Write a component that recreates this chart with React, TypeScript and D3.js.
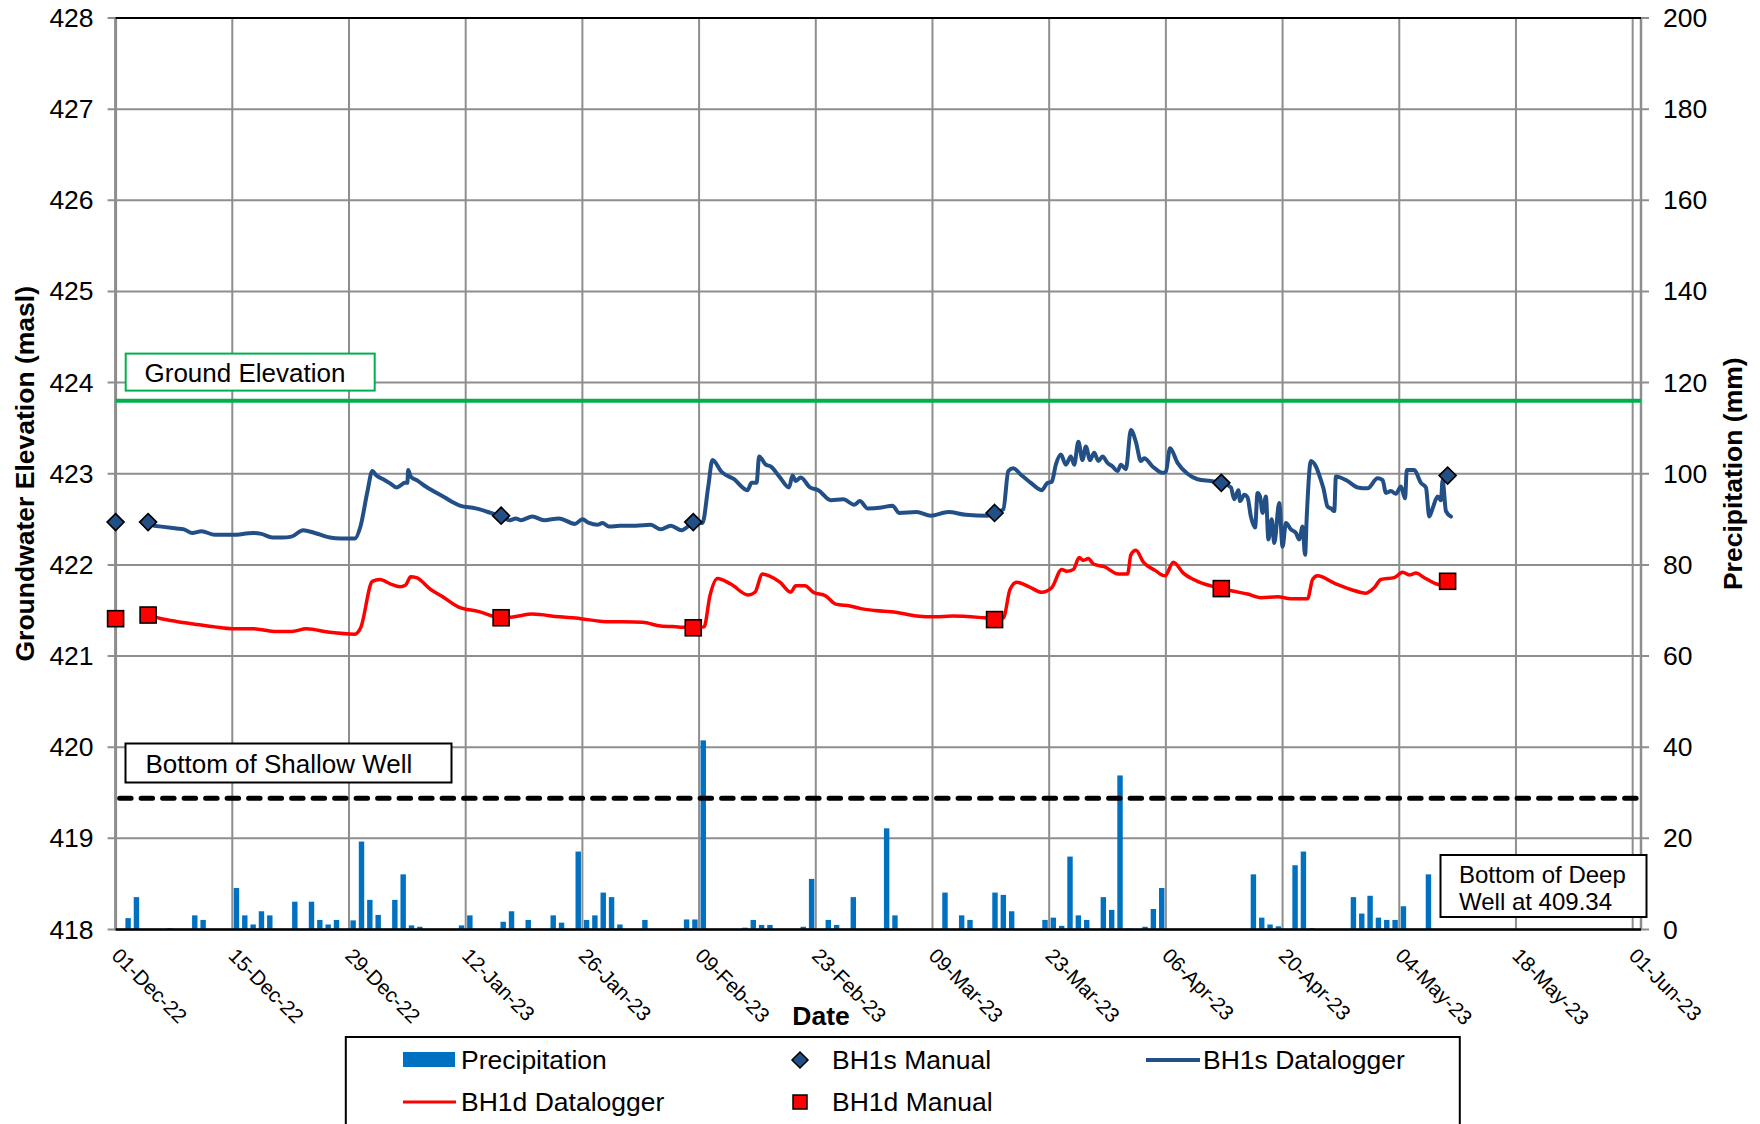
import React from 'react';
import * as d3 from 'd3';

// ---------- DATA ----------
const START_DATE = '2022-12-01';
const END_DATE = '2023-06-02';

const leftTicks = [418, 419, 420, 421, 422, 423, 424, 425, 426, 427, 428];
const rightTicks = [0, 20, 40, 60, 80, 100, 120, 140, 160, 180, 200];

const groundElevation = 423.8;
const shallowWellBottom = 419.44;

// daily precipitation (mm)
const precipDates = [
  '2022-12-02', '2022-12-03', '2022-12-07', '2022-12-10', '2022-12-11', '2022-12-15', '2022-12-16',
  '2022-12-17', '2022-12-18', '2022-12-19', '2022-12-22', '2022-12-24', '2022-12-25', '2022-12-26',
  '2022-12-27', '2022-12-29', '2022-12-30', '2022-12-31', '2023-01-01', '2023-01-03', '2023-01-04',
  '2023-01-05', '2023-01-06', '2023-01-11', '2023-01-12', '2023-01-16', '2023-01-17', '2023-01-19',
  '2023-01-22', '2023-01-23', '2023-01-25', '2023-01-26', '2023-01-27', '2023-01-28', '2023-01-29',
  '2023-01-30', '2023-02-02', '2023-02-07', '2023-02-08', '2023-02-09', '2023-02-14', '2023-02-15',
  '2023-02-16', '2023-02-17', '2023-02-21', '2023-02-22', '2023-02-24', '2023-02-25', '2023-02-27',
  '2023-03-03', '2023-03-04', '2023-03-10', '2023-03-12', '2023-03-13', '2023-03-16', '2023-03-17',
  '2023-03-18', '2023-03-22', '2023-03-23', '2023-03-24', '2023-03-25', '2023-03-26', '2023-03-27',
  '2023-03-29', '2023-03-30', '2023-03-31', '2023-04-01', '2023-04-03', '2023-04-04', '2023-04-05',
  '2023-04-16', '2023-04-17', '2023-04-18', '2023-04-19', '2023-04-21', '2023-04-22', '2023-04-23',
  '2023-04-28', '2023-04-29', '2023-04-30', '2023-05-01', '2023-05-02', '2023-05-03', '2023-05-04',
  '2023-05-07',
];
const precipValues = [
  2.5, 7.1, 0.3, 3.1, 2.1, 9.1, 3.1,
  1.1, 4.0, 3.1, 6.1, 6.1, 2.1, 1.1,
  2.1, 2.0, 19.3, 6.5, 3.2, 6.5, 12.1,
  0.9, 0.6, 0.9, 3.1, 1.7, 4.0, 2.1,
  3.1, 1.5, 17.1, 2.1, 3.1, 8.1, 7.1,
  1.1, 2.1, 2.2, 2.2, 41.5, 0.4, 2.1,
  1.0, 1.0, 0.6, 11.1, 2.1, 1.0, 7.1,
  22.2, 3.1, 8.1, 3.1, 2.1, 8.1, 7.6,
  4.0, 2.1, 2.6, 0.8, 16.0, 3.1, 2.1,
  7.1, 4.3, 33.8, 0.2, 0.6, 4.5, 9.1,
  12.1, 2.6, 1.1, 0.7, 14.1, 17.1, 0.3,
  7.1, 3.5, 7.4, 2.6, 2.1, 2.1, 5.1,
  12.1,
];

// manual readings: [days since START_DATE, elevation masl]
const bh1sManual: [number, number][] = [
  [0, 422.47], [3.9, 422.47], [46.25, 422.54], [69.3, 422.47], [105.45, 422.57], [132.65, 422.9], [159.8, 422.98],
];
const bh1dManual: [number, number][] = [
  [0, 421.41], [3.9, 421.45], [46.25, 421.42], [69.3, 421.31], [105.45, 421.4], [132.65, 421.74], [159.8, 421.82],
];

// datalogger readings: [days since START_DATE, elevation masl]
const bh1sLogger: [number, number][] = [
  [4.6, 422.43], [5.5, 422.42], [7.3, 422.40], [8.2, 422.39], [9.2, 422.35], [10.3, 422.37], [11.9, 422.33],
  [14.0, 422.33], [16.5, 422.35], [17.5, 422.34], [18.8, 422.30], [20.0, 422.30], [21.1, 422.31], [22.5, 422.38],
  [23.9, 422.35], [25.7, 422.30], [27.0, 422.29], [28.7, 422.29], [29.4, 422.43], [30.2, 422.80], [30.8, 423.03],
  [31.3, 422.98], [32.1, 422.94], [33.0, 422.89], [33.7, 422.85], [34.3, 422.88], [34.7, 422.90], [35.0, 422.90],
  [35.1, 423.04], [35.4, 422.97], [36.3, 422.92], [37.2, 422.86], [38.3, 422.80], [39.5, 422.74], [40.4, 422.69],
  [41.3, 422.65], [43.2, 422.62], [45.0, 422.57], [46.3, 422.53], [47.3, 422.49], [48.0, 422.51], [48.6, 422.49],
  [50.0, 422.53], [51.4, 422.49], [53.2, 422.51], [55.1, 422.45], [56.0, 422.50], [56.8, 422.46], [57.8, 422.44],
  [58.4, 422.46], [59.2, 422.42], [60.5, 422.43], [62.4, 422.43], [64.2, 422.44], [65.4, 422.39], [66.6, 422.43],
  [67.9, 422.38], [69.4, 422.46], [70.4, 422.46], [71.1, 422.86], [71.6, 423.15], [72.7, 423.02], [74.2, 422.94],
  [75.8, 422.82], [76.3, 422.90], [76.9, 422.90], [77.2, 423.19], [78.0, 423.10], [78.6, 423.08], [79.7, 422.96],
  [80.8, 422.85], [81.2, 422.98], [81.6, 422.92], [82.2, 422.96], [83.3, 422.85], [84.3, 422.82], [85.8, 422.71],
  [87.3, 422.72], [88.6, 422.66], [89.3, 422.70], [90.2, 422.62], [91.9, 422.63], [93.2, 422.65], [94.0, 422.57],
  [96.1, 422.58], [97.8, 422.54], [99.9, 422.58], [102.0, 422.55], [104.6, 422.54], [105.5, 422.57], [106.5, 422.61],
  [107.1, 423.03], [107.7, 423.06], [108.6, 422.99], [109.8, 422.90], [111.1, 422.82], [111.8, 422.90], [112.3, 422.91],
  [112.8, 423.10], [113.4, 423.21], [114.0, 423.10], [114.6, 423.19], [115.0, 423.10], [115.5, 423.35], [116.0, 423.15],
  [116.4, 423.30], [116.9, 423.15], [117.4, 423.23], [117.9, 423.14], [118.4, 423.19], [119.0, 423.12], [119.6, 423.08],
  [120.2, 423.03], [120.6, 423.10], [121.2, 423.05], [121.8, 423.48], [122.4, 423.35], [123.0, 423.14], [123.4, 423.17],
  [124.4, 423.08], [125.6, 423.01], [126.0, 423.02], [126.5, 423.28], [127.4, 423.12], [128.6, 423.00], [129.8, 422.94],
  [131.4, 422.92], [132.7, 422.90], [133.8, 422.85], [134.2, 422.72], [134.7, 422.82], [134.9, 422.70], [135.4, 422.77],
  [135.8, 422.74], [136.2, 422.53], [136.7, 422.41], [137.0, 422.79], [137.3, 422.75], [137.6, 422.57], [138.0, 422.75],
  [138.3, 422.28], [138.7, 422.50], [139.0, 422.24], [139.6, 422.68], [140.0, 422.20], [140.4, 422.46], [141.0, 422.39],
  [141.6, 422.35], [142.0, 422.28], [142.4, 422.42], [142.7, 422.11], [142.9, 422.53], [143.4, 423.14], [144.0, 423.08],
  [144.6, 422.93], [144.9, 422.84], [145.4, 422.64], [145.8, 422.62], [146.2, 422.59], [146.4, 422.97], [147.8, 422.92],
  [149.0, 422.85], [150.2, 422.84], [151.4, 422.95], [152.0, 422.93], [152.4, 422.79], [153.0, 422.81], [153.6, 422.78],
  [154.2, 422.86], [154.7, 422.73], [154.9, 423.04], [155.8, 423.04], [156.6, 422.90], [157.2, 422.85], [157.6, 422.53],
  [158.0, 422.62], [158.6, 422.75], [159.0, 422.71], [159.2, 422.93], [159.6, 422.59], [160.2, 422.53],
];
const bh1dLogger: [number, number][] = [
  [4.6, 421.43], [5.5, 421.41], [7.3, 421.38], [9.5, 421.35], [11.9, 421.32], [14.0, 421.30], [16.5, 421.30],
  [19.0, 421.27], [21.1, 421.27], [22.9, 421.30], [25.7, 421.26], [28.7, 421.24], [29.4, 421.31], [30.8, 421.82],
  [31.7, 421.84], [33.0, 421.79], [34.1, 421.76], [34.8, 421.78], [35.4, 421.87], [36.1, 421.86], [37.8, 421.73],
  [39.1, 421.66], [41.1, 421.54], [43.5, 421.49], [46.3, 421.42], [47.8, 421.43], [50.0, 421.46], [53.2, 421.43],
  [55.8, 421.41], [58.4, 421.38], [63.2, 421.37], [65.4, 421.33], [67.5, 421.32], [69.3, 421.31], [70.6, 421.32],
  [71.3, 421.66], [72.2, 421.85], [73.8, 421.79], [75.9, 421.67], [76.7, 421.70], [77.6, 421.90], [78.4, 421.88],
  [79.7, 421.81], [81.0, 421.70], [81.6, 421.77], [82.7, 421.77], [83.7, 421.70], [85.2, 421.66], [86.4, 421.57],
  [88.1, 421.55], [89.4, 421.52], [91.1, 421.50], [93.6, 421.48], [96.1, 421.44], [98.3, 421.43], [100.4, 421.44],
  [104.2, 421.42], [105.5, 421.41], [106.5, 421.42], [107.3, 421.73], [108.1, 421.81], [109.6, 421.76], [111.1, 421.70],
  [112.3, 421.75], [113.5, 421.95], [114.1, 421.93], [114.9, 421.95], [115.6, 422.08], [116.1, 422.05], [116.7, 422.07],
  [117.3, 422.01], [118.6, 421.98], [120.3, 421.90], [121.4, 421.90], [121.8, 422.11], [122.4, 422.16], [123.3, 422.03],
  [124.7, 421.94], [125.9, 421.88], [126.9, 422.03], [128.1, 421.91], [129.8, 421.82], [131.4, 421.77], [132.7, 421.74],
  [134.2, 421.71], [135.8, 421.68], [137.4, 421.64], [139.4, 421.65], [141.0, 421.63], [143.0, 421.63], [143.6, 421.84],
  [144.2, 421.88], [146.2, 421.80], [148.2, 421.73], [150.0, 421.69], [151.0, 421.75], [151.8, 421.84], [153.4, 421.86],
  [154.4, 421.92], [155.2, 421.89], [156.0, 421.91], [157.0, 421.86], [158.2, 421.80], [158.9, 421.78],
];

const legendRow1 = ['Precipitation', 'BH1s Manual', 'BH1s Datalogger'];
const legendRow2 = ['BH1d Datalogger', 'BH1d Manual'];

// ---------- STYLE ----------
const FONT = '"Liberation Sans", Arial, Helvetica, sans-serif';
const C_BLUE_LINE = '#234f87';
const C_RED = '#ff0000';
const C_BAR = '#0070c0';
const C_GREEN = '#00b050';
const C_GRID = '#8e8e8e';

export default function App() {
  const W = 1760;
  const H = 1124;
  const plot = { left: 115.6, right: 1641, top: 18, bottom: 929.5 };

  const parse = d3.utcParse('%Y-%m-%d');
  const t0 = parse(START_DATE)!;
  const t1 = parse(END_DATE)!;
  const x = d3.scaleUtc().domain([t0, t1]).range([plot.left, plot.right]);
  const yL = d3.scaleLinear().domain([418, 428]).range([plot.bottom, plot.top]);
  const yR = d3.scaleLinear().domain([0, 200]).range([plot.bottom, plot.top]);

  const dayDate = (d: number) => new Date(t0.getTime() + d * 864e5);
  const xd = (d: number) => x(dayDate(d));
  const dayPx = xd(1) - xd(0);
  const barW = dayPx * 0.65;

  const xTicks = d3.utcDay.range(t0, t1, 14);
  const fmt = d3.utcFormat('%d-%b-%y');

  const line = d3
    .line<[number, number]>()
    .x((p) => xd(p[0]))
    .y((p) => yL(p[1]))
    .curve(d3.curveMonotoneX);

  const diamond = (cx: number, cy: number, r: number) =>
    `M${cx},${cy - r}L${cx + r},${cy}L${cx},${cy + r}L${cx - r},${cy}Z`;

  const midY = (plot.top + plot.bottom) / 2;

  return (
    <svg
      width={W}
      height={H}
      viewBox={`0 0 ${W} ${H}`}
      style={{ position: 'absolute', left: 0, top: 0, background: '#fff' }}
      fontFamily={FONT}
    >
      <rect x={0} y={0} width={W} height={H} fill="#fff" />

      {/* horizontal gridlines + ticks */}
      {leftTicks.map((v) => (
        <line key={'h' + v} x1={plot.left - 8} x2={plot.right + 8} y1={yL(v)} y2={yL(v)} stroke={C_GRID} strokeWidth={2} />
      ))}
      {/* vertical gridlines */}
      {xTicks.map((d, i) => (
        <line key={'v' + i} x1={x(d)} x2={x(d)} y1={plot.top} y2={plot.bottom} stroke={C_GRID} strokeWidth={2} />
      ))}

      {/* axes frame */}
      <line x1={plot.left} x2={plot.left} y1={plot.top} y2={plot.bottom} stroke={C_GRID} strokeWidth={3} />
      <line x1={plot.right} x2={plot.right} y1={plot.top} y2={plot.bottom} stroke={C_GRID} strokeWidth={2.5} />
      <line x1={plot.left} x2={plot.right} y1={plot.top} y2={plot.top} stroke="#000" strokeWidth={2} />

      {/* precipitation bars */}
      {precipDates.map((ds, i) => {
        const cx = x(d3.utcHour.offset(parse(ds)!, 12));
        const v = precipValues[i];
        return (
          <rect
            key={'b' + i}
            x={cx - barW / 2}
            y={yR(v)}
            width={barW}
            height={plot.bottom - yR(v)}
            fill={C_BAR}
          />
        );
      })}

      <line x1={plot.left} x2={plot.right} y1={plot.bottom} y2={plot.bottom} stroke="#000" strokeWidth={2.5} />

      {/* reference lines */}
      <line
        x1={plot.left}
        x2={plot.right}
        y1={yL(groundElevation)}
        y2={yL(groundElevation)}
        stroke={C_GREEN}
        strokeWidth={4}
      />
      <line
        x1={plot.left + 4}
        x2={plot.right}
        y1={yL(shallowWellBottom)}
        y2={yL(shallowWellBottom)}
        stroke="#000"
        strokeWidth={5}
        strokeDasharray="11.5 10"
        strokeLinecap="round"
      />

      {/* datalogger lines */}
      <path d={line(bh1dLogger)!} fill="none" stroke={C_RED} strokeWidth={3.5} strokeLinejoin="round" strokeLinecap="round" />
      <path d={line(bh1sLogger)!} fill="none" stroke={C_BLUE_LINE} strokeWidth={4} strokeLinejoin="round" strokeLinecap="round" />

      {/* manual markers */}
      {bh1sManual.map((p, i) => (
        <path key={'dm' + i} d={diamond(xd(p[0]), yL(p[1]), 8.5)} fill={C_BLUE_LINE} stroke="#000" strokeWidth={1.6} />
      ))}
      {bh1dManual.map((p, i) => (
        <rect
          key={'sq' + i}
          x={xd(p[0]) - 8}
          y={yL(p[1]) - 8}
          width={16}
          height={16}
          fill={C_RED}
          stroke="#000"
          strokeWidth={1.6}
        />
      ))}

      {/* annotation boxes */}
      <rect x={125.7} y={353.6} width={249} height={37} fill="#fff" stroke={C_GREEN} strokeWidth={2} />
      <text x={144.5} y={372.5} fontSize={26} dominantBaseline="central" fill="#000">
        Ground Elevation
      </text>
      <rect x={125.5} y={743.5} width={326} height={39} fill="#fff" stroke="#000" strokeWidth={2} />
      <text x={145.5} y={763.5} fontSize={26} dominantBaseline="central" fill="#000">
        Bottom of Shallow Well
      </text>
      <rect x={1440.5} y={855} width={206} height={62} fill="#fff" stroke="#000" strokeWidth={2} />
      <text x={1459} y={874} fontSize={24} dominantBaseline="central" fill="#000">
        Bottom of Deep
      </text>
      <text x={1459} y={901} fontSize={24} dominantBaseline="central" fill="#000">
        Well at 409.34
      </text>

      {/* left / right axis labels */}
      {leftTicks.map((v) => (
        <text key={'lt' + v} x={plot.left - 22} y={yL(v)} fontSize={26.5} textAnchor="end" dominantBaseline="central">
          {v}
        </text>
      ))}
      {rightTicks.map((v) => (
        <text key={'rt' + v} x={plot.right + 22} y={yR(v)} fontSize={26.5} textAnchor="start" dominantBaseline="central">
          {v}
        </text>
      ))}

      {/* x tick labels */}
      {xTicks.map((d, i) => (
        <text
          key={'xt' + i}
          transform={`translate(${x(d) - 5},${957}) rotate(45)`}
          fontSize={20.5}
          textAnchor="start"
        >
          {fmt(d)}
        </text>
      ))}

      {/* axis titles */}
      <text
        transform={`translate(25,${midY}) rotate(-90)`}
        fontSize={26.5}
        fontWeight="bold"
        textAnchor="middle"
        dominantBaseline="central"
      >
        Groundwater Elevation (masl)
      </text>
      <text
        transform={`translate(1733,${midY}) rotate(-90)`}
        fontSize={26.5}
        fontWeight="bold"
        textAnchor="middle"
        dominantBaseline="central"
      >
        Precipitation (mm)
      </text>
      <text x={821} y={1016} fontSize={26.5} fontWeight="bold" textAnchor="middle" dominantBaseline="central">
        Date
      </text>

      {/* legend */}
      <rect x={345.8} y={1037} width={1114} height={120} fill="#fff" stroke="#000" strokeWidth={2} />
      <rect x={403} y={1052} width={52} height={15} fill={C_BAR} />
      <text x={461} y={1060} fontSize={26.5} dominantBaseline="central">
        {legendRow1[0]}
      </text>
      <path d={diamond(800, 1060, 8)} fill={C_BLUE_LINE} stroke="#000" strokeWidth={1.5} />
      <text x={832} y={1060} fontSize={26.5} dominantBaseline="central">
        {legendRow1[1]}
      </text>
      <line x1={1146} x2={1200} y1={1060} y2={1060} stroke={C_BLUE_LINE} strokeWidth={4} />
      <text x={1203} y={1060} fontSize={26.5} dominantBaseline="central">
        {legendRow1[2]}
      </text>
      <line x1={403} x2={456} y1={1102} y2={1102} stroke={C_RED} strokeWidth={3} />
      <text x={461} y={1102} fontSize={26.5} dominantBaseline="central">
        {legendRow2[0]}
      </text>
      <rect x={793} y={1095} width={14} height={14} fill={C_RED} stroke="#000" strokeWidth={1.5} />
      <text x={832} y={1102} fontSize={26.5} dominantBaseline="central">
        {legendRow2[1]}
      </text>
    </svg>
  );
}
